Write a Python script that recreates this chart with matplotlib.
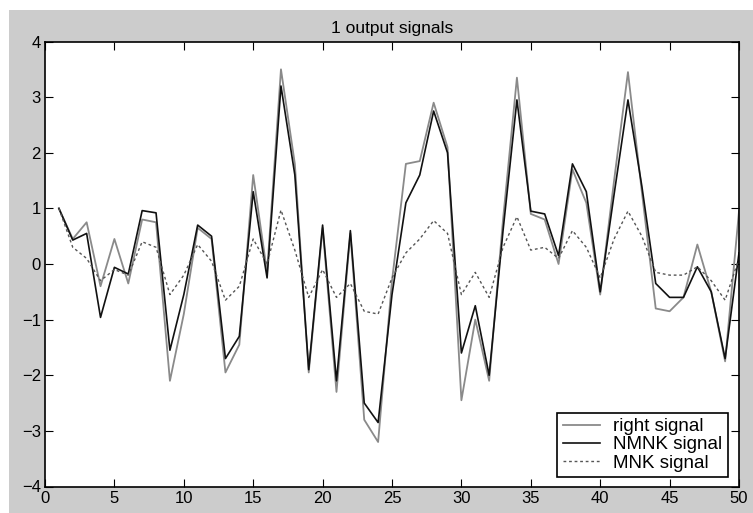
import matplotlib
matplotlib.use('Agg')
import matplotlib.pyplot as plt
from matplotlib.patches import Rectangle
import numpy as np

n = np.arange(1, 51)

right_signal = [1.0, 0.45, 0.75, -0.4, 0.45, -0.35, 0.8, 0.75, -2.1, -0.9,
                0.65, 0.45, -1.95, -1.45, 1.6, -0.15, 3.5, 1.8, -1.95, 0.65,
                -2.3, 0.55, -2.8, -3.2, -0.3, 1.8, 1.85, 2.9, 2.1, -2.45,
                -1.0, -2.1, 0.8, 3.35, 0.9, 0.8, 0.0, 1.7, 1.1, -0.55,
                1.5, 3.45, 1.3, -0.8, -0.85, -0.6, 0.35, -0.5, -1.75, 0.95]
nmnk_signal = [1.0, 0.43, 0.55, -0.96, -0.06, -0.18, 0.96, 0.92, -1.55, -0.55,
               0.7, 0.5, -1.7, -1.3, 1.3, -0.25, 3.2, 1.6, -1.9, 0.7,
               -2.1, 0.6, -2.5, -2.85, -0.55, 1.1, 1.6, 2.75, 2.0, -1.6,
               -0.75, -2.0, 0.6, 2.95, 0.95, 0.9, 0.15, 1.8, 1.3, -0.5,
               1.25, 2.95, 1.4, -0.35, -0.6, -0.6, -0.05, -0.5, -1.7, 0.2]
mnk_signal = [1.0, 0.3, 0.1, -0.3, -0.1, -0.2, 0.4, 0.3, -0.55, -0.2,
              0.35, 0.05, -0.65, -0.4, 0.45, 0.0, 0.97, 0.25, -0.6, -0.1,
              -0.6, -0.35, -0.85, -0.9, -0.25, 0.2, 0.45, 0.78, 0.55, -0.55,
              -0.15, -0.6, 0.3, 0.85, 0.25, 0.3, 0.1, 0.6, 0.3, -0.25,
              0.45, 0.95, 0.5, -0.15, -0.2, -0.2, -0.05, -0.3, -0.65, 0.1]

plt.rcParams['font.family'] = ['Liberation Sans', 'DejaVu Sans']

fig = plt.figure(figsize=(7.53, 5.13), dpi=100, facecolor='white')
# grey window area, leaving a thin white strip on top and left
fig.patches.append(Rectangle((9 / 753, 0), 1 - 9 / 753, 503 / 513,
                             transform=fig.transFigure, facecolor='#cccccc',
                             edgecolor='none', zorder=-10))

ax = fig.add_axes([45 / 753, 26.5 / 513, 694 / 753, 445 / 513])
ax.set_facecolor('white')

ax.plot(n, right_signal, color='#8a8a8a', lw=1.3, label='right signal')
ax.plot(n, nmnk_signal, color='#111111', lw=1.2, label='NMNK signal')
ax.plot(n, mnk_signal, color='#555555', lw=1.0, ls=(0, (2, 2)), label='MNK signal')

ax.set_xlim(0, 50)
ax.set_ylim(-4, 4)
ax.set_xticks(np.arange(0, 51, 5))
ax.set_yticks(np.arange(-4, 5, 1))
ax.tick_params(direction='in', top=True, right=True, labelsize=12, length=6, pad=3)
for s in ax.spines.values():
    s.set_linewidth(1.2)
ax.set_title('1 output signals', fontsize=12.5, pad=6)

leg = ax.legend(loc='lower right', bbox_to_anchor=(0.984, 0.021), borderaxespad=0,
                fontsize=13.5, fancybox=False, framealpha=1, edgecolor='black',
                handlelength=2.0, handletextpad=0.7, borderpad=0.3, labelspacing=0.05)
leg.get_frame().set_linewidth(1.2)

fig.savefig('out.png', dpi=100, facecolor=fig.get_facecolor())
